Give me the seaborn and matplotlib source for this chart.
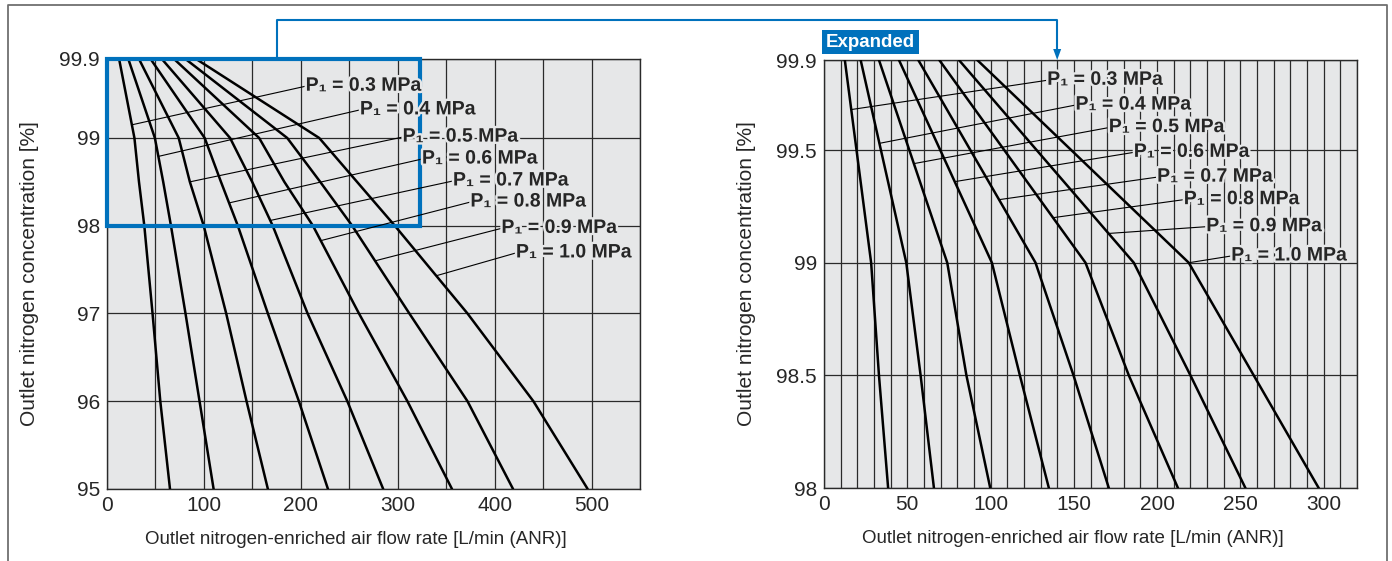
import numpy as np
import pandas as pd
import matplotlib
matplotlib.use("Agg")
import matplotlib.pyplot as plt
import matplotlib.patheffects as pe
from matplotlib.lines import Line2D
from matplotlib.patches import Rectangle, Polygon
import seaborn as sns

# Outlet N2 concentration [%] and flow rate [L/min (ANR)] per inlet pressure
conc = [99.9, 99.0, 98.5, 98.0, 97.0, 96.0, 95.0]
pressures = ["0.3", "0.4", "0.5", "0.6", "0.7", "0.8", "0.9", "1.0"]
flow_03 = [12.5, 28.3, 33.0, 38.5, 47.0, 55.0, 65.0]
flow_04 = [22.0, 49.4, 58.0, 66.0, 81.0, 95.5, 110.0]
flow_05 = [33.0, 74.0, 85.5, 99.8, 123.0, 144.0, 166.0]
flow_06 = [45.0, 100.8, 117.6, 135.0, 166.0, 198.0, 228.0]
flow_07 = [56.6, 127.0, 149.8, 171.0, 207.0, 248.0, 285.0]
flow_08 = [69.2, 157.0, 183.0, 212.5, 260.0, 310.0, 356.0]
flow_09 = [81.0, 186.0, 220.0, 253.0, 312.0, 372.0, 419.0]
flow_10 = [92.0, 219.0, 258.0, 297.0, 372.0, 440.0, 496.0]
flows = [flow_03, flow_04, flow_05, flow_06, flow_07, flow_08, flow_09, flow_10]

# label placement (text anchor, and concentration where the leader touches the curve)
left_label_x = [205, 261, 305, 325, 357, 375, 407, 422]
left_label_y = [99.59, 99.32, 99.01, 98.76, 98.51, 98.27, 97.97, 97.69]
left_leader_c = [99.15, 98.79, 98.5, 98.26, 98.06, 97.83, 97.6, 97.43]
right_label_x = [134, 151, 171, 186, 200, 216, 229.5, 244.5]
right_label_y = [99.81, 99.70, 99.60, 99.49, 99.38, 99.28, 99.16, 99.03]
right_leader_c = [99.68, 99.53, 99.44, 99.36, 99.28, 99.2, 99.13, 99.0]

rows = []
for p, fl in zip(pressures, flows):
    for c, f in zip(conc, fl):
        rows.append({"pressure": p, "conc": c, "flow": f})
df = pd.DataFrame(rows)

sns.set_theme(style="white")
plt.rcParams["font.family"] = ["Liberation Sans", "DejaVu Sans"]

BG = "#e6e7e8"
BLUE = "#0071bc"
W, H = 1392, 561
fig = plt.figure(figsize=(W / 100, H / 100), dpi=100)


def box(x0, y0, x1, y1):
    return [x0 / W, 1 - y1 / H, (x1 - x0) / W, (y1 - y0) / H]


ax1 = fig.add_axes(box(107, 59, 640, 489))
ax2 = fig.add_axes(box(824, 60, 1357, 488))

for ax in (ax1, ax2):
    ax.set_facecolor(BG)
    sns.lineplot(data=df, x="flow", y="conc", hue="pressure", palette=["black"] * 8,
                 estimator=None, sort=False, lw=1.8, legend=False, ax=ax, zorder=3)
    ax.grid(which="both", color="#2a2a2a", lw=0.9)
    ax.set_axisbelow(True)
    ax.tick_params(which="both", length=0, labelsize=15, pad=5)
    for s in ax.spines.values():
        s.set_color("#2a2a2a")
        s.set_linewidth(1.0)
    ax.set_xlabel("Outlet nitrogen-enriched air flow rate [L/min (ANR)]", fontsize=13.5)
    ax.set_ylabel("Outlet nitrogen concentration [%]", fontsize=15)
    ax.xaxis.set_label_coords(0.466, -0.097)
    ax.yaxis.set_label_coords(-0.128, 0.5)

ax1.set_xlim(0, 550)
ax1.set_ylim(95, 99.9)
ax1.set_xticks(np.arange(0, 501, 100))
ax1.set_xticks(np.arange(0, 551, 50), minor=True)
ax1.set_yticks([95, 96, 97, 98, 99, 99.9])
ax1.set_yticklabels(["95", "96", "97", "98", "99", "99.9"])

ax2.set_xlim(0, 320)
ax2.set_ylim(98, 99.9)
ax2.set_xticks(np.arange(0, 301, 50))
ax2.set_xticks(np.arange(0, 321, 10), minor=True)
ax2.set_yticks([98, 98.5, 99, 99.5, 99.9])
ax2.set_yticklabels(["98", "98.5", "99", "99.5", "99.9"])

stroke = [pe.withStroke(linewidth=3.5, foreground=BG)]


def add_labels(ax, xs, ys, cs):
    for p, fl, x, y, c in zip(pressures, flows, xs, ys, cs):
        xe = np.interp(c, conc[::-1], fl[::-1])
        ax.plot([x, xe], [y, c], color="black", lw=0.8, zorder=5)
        ax.text(x, y, f"P\u2081 = {p} MPa", ha="left", va="center", fontsize=14,
                fontweight="bold", path_effects=stroke, zorder=6)


# zoom box on the left chart
ax1.add_patch(Rectangle((0, 98), 323, 1.9, fill=False, ec=BLUE, lw=3, zorder=4, clip_on=False))
add_labels(ax1, left_label_x, left_label_y, left_leader_c)
add_labels(ax2, right_label_x, right_label_y, right_leader_c)

# connector from the box to the expanded chart
fig.canvas.draw()
to_fig = fig.transFigure.inverted()
x0, y0 = to_fig.transform(ax1.transData.transform((175, 99.9)))
x1, y1 = to_fig.transform(ax2.transData.transform((140, 99.9)))
ytop = 1 - 20 / H
head = 11 / H
fig.add_artist(Line2D([x0, x0, x1, x1], [y0 + 2 / H, ytop, ytop, y1 + head],
                      transform=fig.transFigure, color=BLUE, lw=1.5))
fig.add_artist(Polygon([[x1, y1], [x1 - 4 / W, y1 + head], [x1 + 4 / W, y1 + head]],
                       closed=True, transform=fig.transFigure, color=BLUE, lw=0))

ax2.text(0.004, 1.022, "Expanded", transform=ax2.transAxes, ha="left", va="bottom",
         color="white", fontsize=13.5, fontweight="bold",
         bbox=dict(boxstyle="square,pad=0.2", fc=BLUE, ec="none"))

# panel frame
fig.add_artist(Line2D([8 / W, 8 / W, 1387 / W, 1387 / W], [0, 1 - 5 / H, 1 - 5 / H, 0],
                      transform=fig.transFigure, color="#6f6f6f", lw=1.3))

fig.savefig("out.png", dpi=100)
